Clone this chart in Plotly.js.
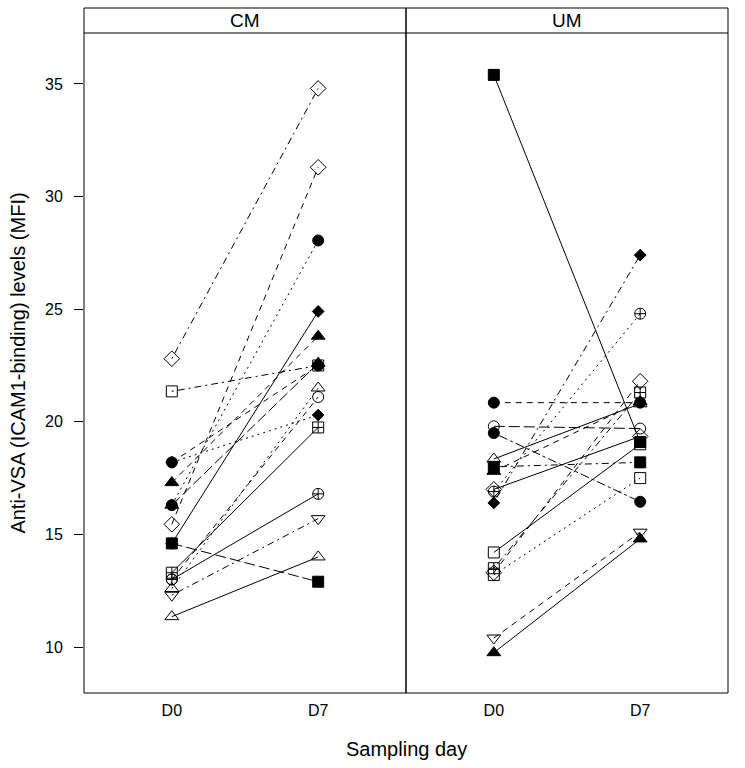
<!DOCTYPE html>
<html>
<head>
<meta charset="utf-8">
<script src="https://cdn.plot.ly/plotly-3.0.1.min.js"></script>
<style>html,body{margin:0;padding:0;background:#fff;}</style>
</head>
<body>
<div id="chart" style="width:745px;height:768px;"></div>
<script>
// ---- data ----
const days = ["D0", "D7"];
const panels = ["CM", "UM"];
const yTicks = [10, 15, 20, 25, 30, 35];

// CM group: value at D0 and D7 for each subject
const cmD0 = [22.8, 15.45, 16.3, 14.6, 17.3, 21.35, 16.3, 12.6, 13.0, 18.2, 13.3, 13.0, 12.3, 11.35, 14.6, 18.2];
const cmD7 = [34.8, 31.3, 28.05, 24.9, 23.8, 22.5, 22.6, 21.5, 21.1, 20.3, 19.75, 16.8, 15.7, 14.0, 12.9, 22.5];

// UM group
const umD0 = [35.4, 20.85, 19.8, 19.5, 18.35, 18.0, 17.8, 17.0, 16.4, 16.9, 14.2, 13.5, 13.2, 10.4, 9.75, 13.3];
const umD7 = [19.1, 20.85, 19.7, 16.45, 20.8, 18.2, 20.9, 19.35, 27.4, 24.8, 19.0, 21.3, 17.5, 15.1, 14.8, 21.8];

// ---- styles (per subject) ----
const cmSym = ["diamond-open","diamond-open","circle","diamond","triangle-up","square-open","triangle-up","triangle-up-open","circle-open","diamond","square-cross-open","circle-cross-open","triangle-down-open","triangle-up-open","square","circle"];
const cmDash = ["dashdot","dash","dot","solid","dash","dashdot","longdash","dot","dash","dot","solid","solid","dashdot","solid","longdash","dash"];
const umSym = ["square","circle","circle-open","circle","triangle-up-open","square","triangle-up","diamond-open","diamond","circle-cross-open","square-open","square-cross-open","square-open","triangle-down-open","triangle-up","diamond-open"];
const umDash = ["solid","dash","longdash","longdashdot","solid","dashdot","dash","solid","dashdot","dot","solid","dashdot","dot","dash","solid","dash"];

// R-like line type patterns
const dashMap = {
  solid: "solid",
  dash: "6px,5px",
  dot: "2px,4px",
  dashdot: "2px,4px,7px,4px",
  longdash: "11px,4px",
  longdashdot: "3px,3px,9px,3px"
};

function sizeFor(sym){
  if (sym === "diamond") return 9;
  if (sym.indexOf("diamond") === 0) return 12;
  if (sym.indexOf("triangle") === 0) return 12;
  return 11;
}

const traces = [];
function addGroup(d0, d7, syms, dashes, xa){
  for (let i = 0; i < d0.length; i++){
    traces.push({
      type: "scatter",
      mode: "lines+markers",
      x: days,
      y: [d0[i], d7[i]],
      xaxis: xa, yaxis: "y",
      line: {color: "#000", width: 1, dash: dashMap[dashes[i]]},
      marker: {symbol: syms[i], size: sizeFor(syms[i]), color: "#000",
               line: {color: "#000", width: 1}},
      showlegend: false,
      hoverinfo: "y"
    });
  }
}
addGroup(cmD0, cmD7, cmSym, cmDash, "x");
addGroup(umD0, umD7, umSym, umDash, "x2");

const FONT = "Liberation Sans, Arial, sans-serif";
const plotTop = 0.9635;

const xCommon = {
  type: "category", categoryarray: days, range: [-0.6, 1.6],
  showgrid: false, zeroline: false, showline: false,
  ticks: "", tickfont: {family: FONT, size: 16, color: "#000"},
  ticklabelstandoff: 6, anchor: "y", fixedrange: true
};

const layout = {
  width: 745, height: 768,
  margin: {l: 84, r: 17, t: 8, b: 75},
  paper_bgcolor: "#fff", plot_bgcolor: "#fff",
  font: {family: FONT, color: "#000"},
  xaxis: Object.assign({}, xCommon, {domain: [0, 0.5]}),
  xaxis2: Object.assign({}, xCommon, {domain: [0.5, 1]}),
  yaxis: {
    domain: [0, plotTop], range: [7.96, 37.26],
    tickvals: yTicks, ticktext: yTicks.map(String),
    ticks: "outside", ticklen: 9, tickwidth: 1, tickcolor: "#000",
    ticklabelstandoff: 8,
    tickfont: {family: FONT, size: 16, color: "#000"},
    showgrid: false, zeroline: false, showline: false,
    title: {text: "Anti-VSA (ICAM1-binding) levels (MFI)", font: {family: FONT, size: 20, color: "#000"}, standoff: 14},
    anchor: "x", fixedrange: true
  },
  shapes: [
    {type: "rect", xref: "paper", yref: "paper", x0: 0, x1: 0.5, y0: 0, y1: 1, line: {color: "#000", width: 1}},
    {type: "rect", xref: "paper", yref: "paper", x0: 0.5, x1: 1, y0: 0, y1: 1, line: {color: "#000", width: 1}},
    {type: "line", xref: "paper", yref: "paper", x0: 0, x1: 1, y0: plotTop, y1: plotTop, line: {color: "#000", width: 1}}
  ],
  annotations: [
    {text: panels[0], xref: "paper", yref: "paper", x: 0.25, y: (1 + plotTop) / 2, showarrow: false,
     xanchor: "center", yanchor: "middle", font: {family: FONT, size: 19, color: "#000"}},
    {text: panels[1], xref: "paper", yref: "paper", x: 0.75, y: (1 + plotTop) / 2, showarrow: false,
     xanchor: "center", yanchor: "middle", font: {family: FONT, size: 19, color: "#000"}},
    {text: "Sampling day", xref: "paper", yref: "paper", x: 0.5, y: -0.082, showarrow: false,
     xanchor: "center", yanchor: "middle", font: {family: FONT, size: 20, color: "#000"}}
  ]
};

Plotly.newPlot("chart", traces, layout, {displayModeBar: false, staticPlot: true});
</script>
</body>
</html>
